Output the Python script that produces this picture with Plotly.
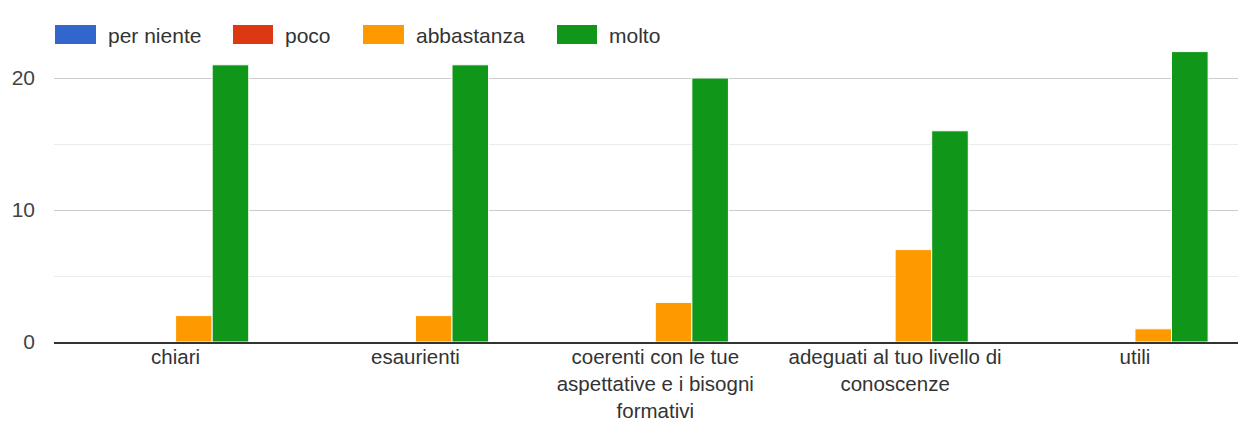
import plotly.graph_objects as go

categories = ["chiari", "esaurienti", "coerenti con le tue<br>aspettative e i bisogni<br>formativi",
              "adeguati al tuo livello di<br>conoscenze", "utili"]
series_names = ["per niente", "poco", "abbastanza", "molto"]
per_niente = [0, 0, 0, 0, 0]
poco = [0, 0, 0, 0, 0]
abbastanza = [2, 2, 3, 7, 1]
molto = [21, 21, 20, 16, 22]
colors = ["#3366cc", "#dc3912", "#ff9900", "#109618"]
y_ticks = [0, 10, 20]
y_minor = [5, 15, 25]

# layout geometry (page pixels; the page body has an 8px default margin)
BODY = 8
W, H = 1246 - BODY, 421 - BODY
ML, MT, MB, MR = 46, 4, 79, 0
PL, PT = BODY + ML, BODY + MT
PW, PH = W - ML - MR, H - MT - MB

def px_x(px):
    return (px - PL) / PW

def px_y(py):
    return 1 - (py - PT) / PH

fig = go.Figure()
for name, vals, col in zip(series_names, [per_niente, poco, abbastanza, molto], colors):
    fig.add_trace(go.Bar(name=name, x=categories, y=vals, showlegend=False,
                         marker=dict(color=col, line=dict(color="white", width=1))))

# custom legend (large swatches like the reference)
swatch_x = [(55, 96), (233, 273), (363, 404), (557, 597)]
text_x = [106, 283, 414, 607]
shapes, annotations = [], []
for (x0, x1), tx, name, col in zip(swatch_x, text_x, series_names, colors):
    shapes.append(dict(type="rect", xref="paper", yref="paper", x0=px_x(x0), x1=px_x(x1),
                       y0=px_y(44), y1=px_y(25), fillcolor=col, line=dict(width=0), layer="above"))
    annotations.append(dict(xref="paper", yref="paper", x=px_x(tx), y=px_y(35), text=name,
                            showarrow=False, xanchor="left", yanchor="middle",
                            font=dict(size=21, color="#333")))

font_family = "Liberation Sans, Arial, sans-serif"
fig.update_layout(
    width=W, height=H,
    margin=dict(l=ML, r=MR, t=MT, b=MB, autoexpand=False),
    paper_bgcolor="white", plot_bgcolor="white",
    barmode="group", bargap=0.39, bargroupgap=0,
    font=dict(family=font_family, size=21, color="#444"),
    showlegend=False,
    shapes=shapes, annotations=annotations,
    xaxis=dict(type="category", range=[-0.507, 4.463], showgrid=False, ticks="",
               automargin=False, ticklabelstandoff=-4,
               showline=True, linecolor="#333333", linewidth=1.5, layer="above traces",
               tickfont=dict(size=20.5, color="#333")),
    yaxis=dict(range=[0, 25], tickvals=y_ticks, showgrid=True, gridcolor="#cccccc", gridwidth=1,
               zeroline=False, automargin=False,
               minor=dict(tickvals=y_minor, showgrid=True, gridcolor="#ebebeb", gridwidth=1),
               tickfont=dict(size=21, color="#444"), ticklabelstandoff=18),
)
fig.write_html("out.html")
